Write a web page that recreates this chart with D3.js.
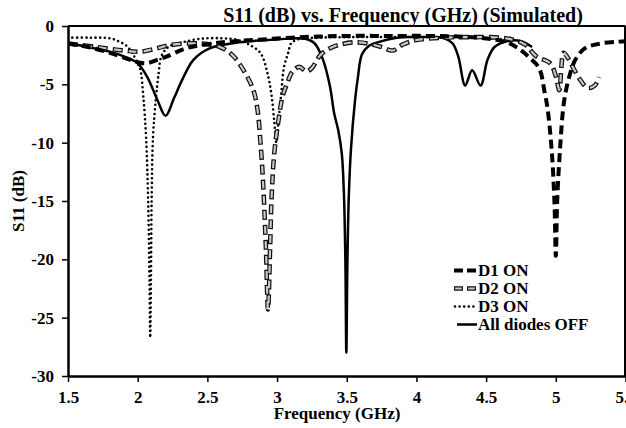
<!DOCTYPE html>
<html><head><meta charset="utf-8">
<script src="https://cdn.jsdelivr.net/npm/d3@7"></script>
<style>
html,body{margin:0;padding:0;background:#fff;}
svg{display:block;font-family:"Liberation Serif","Times New Roman",serif;}
</style></head>
<body><svg id="chart" width="626" height="428"></svg>
<script>
// ---- data ----
const xTicks = [1.5, 2, 2.5, 3, 3.5, 4, 4.5, 5, 5.5];
const xTickLabels = ["1.5", "2", "2.5", "3", "3.5", "4", "4.5", "5", "5.5"];
const yTicks = [0, -5, -10, -15, -20, -25, -30];
const yTickLabels = ["0", "-5", "-10", "-15", "-20", "-25", "-30"];
const seriesNames = ["D1 ON", "D2 ON", "D3 ON", "All diodes OFF"];

const d1Freq = [1.5,1.6,1.68,1.8,1.92,2.0,2.06,2.14,2.21,2.35,2.54,2.7,2.9,3.1,3.3,3.5,3.8,4.1,4.3,4.45,4.55,4.65,4.74,4.81,4.88,4.92,4.94,4.97,4.99,5.0,5.01,5.03,5.06,5.1,5.14,5.21,5.32,5.44,5.5];
const d1S11  = [-1.5,-1.7,-1.9,-2.3,-2.8,-3.1,-3.2,-2.9,-2.6,-1.9,-1.5,-1.3,-1.15,-1.0,-0.9,-0.85,-0.85,-0.85,-0.9,-1.0,-1.15,-1.4,-2.0,-2.7,-3.6,-5.7,-7.0,-10.6,-15,-19.7,-15,-10.6,-6.4,-4.2,-2.9,-1.9,-1.5,-1.35,-1.3];

const d2Freq = [1.5,1.7,1.9,2.02,2.14,2.25,2.45,2.59,2.68,2.76,2.83,2.86,2.88,2.9,2.92,2.935,2.95,2.96,2.98,3.01,3.04,3.07,3.11,3.16,3.21,3.25,3.31,3.38,3.45,3.55,3.65,3.75,3.83,3.9,4.0,4.2,4.4,4.6,4.7,4.78,4.86,4.96,5.0,5.025,5.04,5.055,5.09,5.13,5.18,5.23,5.28,5.31];
const d2S11  = [-1.5,-1.8,-2.1,-2.2,-1.9,-1.6,-1.5,-1.8,-2.5,-3.8,-5.5,-7.2,-9.8,-13.5,-19,-24.3,-19,-14.9,-10.9,-8.1,-6.0,-5.0,-3.9,-3.5,-3.9,-3.6,-2.5,-1.9,-1.6,-1.4,-1.5,-1.8,-2.1,-1.6,-1.2,-1.0,-0.95,-1.0,-1.2,-1.6,-2.6,-3.2,-4.3,-5.5,-3.5,-2.3,-2.8,-3.7,-4.7,-5.3,-5.1,-4.4];

const d3Freq = [1.5,1.65,1.8,1.86,1.92,1.96,2.0,2.02,2.04,2.06,2.075,2.085,2.09,2.095,2.1,2.11,2.13,2.15,2.17,2.22,2.32,2.45,2.6,2.72,2.8,2.88,2.93,2.96,2.98,2.995,3.01,3.03,3.05,3.08,3.1,3.15,3.3,3.6,4.0,4.4,4.7];
const d3S11  = [-1.0,-1.0,-1.05,-1.3,-1.7,-2.3,-3.2,-3.8,-6.0,-9.5,-15,-22,-26.7,-22,-15,-9.5,-6.3,-4.1,-2.6,-1.8,-1.4,-1.1,-1.05,-1.2,-1.6,-2.3,-4.0,-5.9,-8.2,-10.0,-8.2,-5.8,-3.5,-2.3,-1.5,-1.15,-1.0,-0.95,-0.95,-1.0,-1.2];

const offFreq = [1.5,1.6,1.7,1.8,1.9,2.0,2.07,2.14,2.2,2.26,2.32,2.4,2.52,2.73,3.0,3.2,3.27,3.33,3.38,3.41,3.44,3.465,3.48,3.49,3.497,3.505,3.515,3.53,3.56,3.58,3.61,3.66,3.72,3.86,4.0,4.2,4.26,4.3,4.35,4.4,4.46,4.51,4.56,4.65,4.75,4.83];
const offS11  = [-1.5,-1.7,-1.95,-2.2,-2.6,-3.2,-4.4,-6.3,-7.7,-6.2,-4.6,-2.9,-1.9,-1.4,-1.15,-1.1,-1.5,-2.9,-5.2,-7.5,-9.0,-11,-14.5,-20,-28,-20,-14.5,-10.6,-6.3,-4.4,-2.4,-1.7,-1.4,-1.0,-0.95,-1.05,-1.5,-2.6,-5.1,-3.8,-5.1,-2.9,-1.8,-1.3,-1.3,-1.8];

// ---- chart ----
const svg = d3.select("#chart");
const L = 68, R = 625.5, T = 26, B = 376;
const x = d3.scaleLinear().domain([1.5, 5.5]).range([L, R]);
const y = d3.scaleLinear().domain([0, -30]).range([T, B]);

svg.append("defs").append("clipPath").attr("id","clip")
  .append("rect").attr("x",L).attr("y",T).attr("width",R-L).attr("height",B-T);

// frame (top and right)
svg.append("line").attr("x1",L).attr("x2",R).attr("y1",T).attr("y2",T)
  .attr("stroke","#000").attr("stroke-width",2);
svg.append("line").attr("x1",R-0.5).attr("x2",R-0.5).attr("y1",T).attr("y2",B)
  .attr("stroke","#000").attr("stroke-width",2);

const line = d3.line().x(d=>x(d[0])).y(d=>y(d[1])).curve(d3.curveCatmullRom.alpha(0.5));
const zip = (a,b)=>a.map((v,i)=>[v,b[i]]);
const g = svg.append("g").attr("clip-path","url(#clip)");

// solid
g.append("path").attr("d", line(zip(offFreq, offS11)))
  .attr("fill","none").attr("stroke","#000").attr("stroke-width",2.5);
// D3 dotted
g.append("path").attr("d", line(zip(d3Freq, d3S11)))
  .attr("fill","none").attr("stroke","#000").attr("stroke-width",2.6)
  .attr("stroke-linecap","round").attr("stroke-dasharray","0 4.6");
// D2 outlined dashes
const d2d = line(zip(d2Freq, d2S11));
g.append("path").attr("d", d2d).attr("fill","none").attr("stroke","#111")
  .attr("stroke-width",4.6).attr("stroke-dasharray","10 5");
g.append("path").attr("d", d2d).attr("fill","none").attr("stroke","#c8c8c8")
  .attr("stroke-width",2.2).attr("stroke-dasharray","7.6 7.4").attr("stroke-dashoffset",-1.2);
// D1 thick dashes
g.append("path").attr("d", line(zip(d1Freq, d1S11)))
  .attr("fill","none").attr("stroke","#000").attr("stroke-width",4)
  .attr("stroke-dasharray","9 5");

// axes
const xAxis = d3.axisBottom(x).tickValues(xTicks)
  .tickFormat((d,i)=>xTickLabels[i]).tickSize(6).tickSizeOuter(0).tickPadding(9);
const gx = svg.append("g").attr("transform",`translate(0,${B})`).call(xAxis);
gx.select(".domain").attr("stroke-width",2.5);
gx.selectAll(".tick line").attr("stroke-width",1.5);
gx.selectAll("text").attr("font-family","Liberation Serif").attr("font-weight","bold")
  .attr("font-size",17).attr("fill","#000");

const yAxis = d3.axisLeft(y).tickValues(yTicks)
  .tickFormat((d,i)=>yTickLabels[i]).tickSize(6).tickSizeOuter(0).tickPadding(8);
const gy = svg.append("g").attr("transform",`translate(${L},0)`).call(yAxis);
gy.select(".domain").attr("stroke-width",2.5);
gy.selectAll(".tick line").attr("stroke-width",1.5);
gy.selectAll("text").attr("font-family","Liberation Serif").attr("font-weight","bold")
  .attr("font-size",17).attr("fill","#000");

// titles
svg.append("text").attr("x",403).attr("y",22).attr("text-anchor","middle")
  .attr("font-weight","bold").attr("font-size",20)
  .text("S11 (dB) vs. Frequency (GHz) (Simulated)");
svg.append("text").attr("x",337).attr("y",419).attr("text-anchor","middle")
  .attr("font-weight","bold").attr("font-size",17).text("Frequency (GHz)");
svg.append("text").attr("transform","translate(24,201) rotate(-90)").attr("text-anchor","middle")
  .attr("font-weight","bold").attr("font-size",17).text("S11 (dB)");

// legend
const lg = svg.append("g");
const rows = [276, 294, 312, 330];
const sx0 = 454, sx1 = 477;
seriesNames.forEach((name,i)=>{
  const cy = rows[i] - 5.5;
  if (i===0) {
    lg.append("line").attr("x1",sx0).attr("x2",sx1).attr("y1",cy).attr("y2",cy)
      .attr("stroke","#000").attr("stroke-width",4).attr("stroke-dasharray","9 4");
  } else if (i===1) {
    lg.append("line").attr("x1",sx0).attr("x2",sx1).attr("y1",cy).attr("y2",cy)
      .attr("stroke","#111").attr("stroke-width",4.6).attr("stroke-dasharray","9 4");
    lg.append("line").attr("x1",sx0).attr("x2",sx1).attr("y1",cy).attr("y2",cy)
      .attr("stroke","#c8c8c8").attr("stroke-width",2.2).attr("stroke-dasharray","6.6 6.4")
      .attr("stroke-dashoffset",-1.2);
  } else if (i===2) {
    lg.append("line").attr("x1",sx0+1).attr("x2",sx1).attr("y1",cy).attr("y2",cy)
      .attr("stroke","#000").attr("stroke-width",2.6).attr("stroke-linecap","round")
      .attr("stroke-dasharray","0 4.6");
  } else {
    lg.append("line").attr("x1",sx0+3).attr("x2",sx1).attr("y1",cy).attr("y2",cy)
      .attr("stroke","#000").attr("stroke-width",2.5);
  }
  lg.append("text").attr("x",478).attr("y",rows[i]).attr("font-weight","bold")
    .attr("font-size",17).text(name);
});
</script></body></html>
